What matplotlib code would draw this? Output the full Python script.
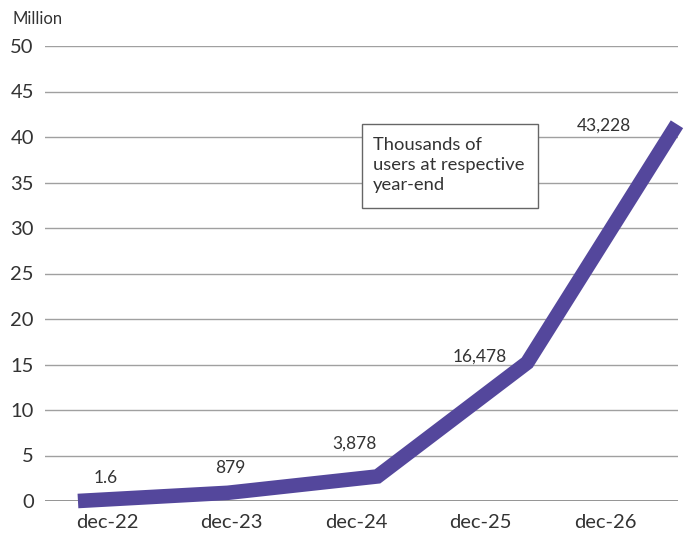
import matplotlib
matplotlib.use("Agg")
import matplotlib.pyplot as plt
import numpy as np

categories = ["dec-22", "dec-23", "dec-24", "dec-25", "dec-26"]
values_million = [0.0, 0.9, 2.7, 15.2, 41.4]
label_texts = ["1.6", "879", "3,878", "16,478", "43,228"]
label_y = [2.5, 3.6, 6.3, 15.9, 41.3]
yticks = [0, 5, 10, 15, 20, 25, 30, 35, 40, 45, 50]

plt.rcParams['font.family'] = ['Lato', 'DejaVu Sans']
txt = '#333333'

fig = plt.figure(figsize=(6.88, 5.39), dpi=100)
ax = fig.add_axes([45/688, 1-501/539, (678-45)/688, (501-46)/539])

x = np.arange(len(categories))
ax.set_xlim(-0.22, 4.007)
ax.set_ylim(0, 50)

for y in yticks[1:]:
    ax.axhline(y, color='#a0a0a0', lw=1.0, zorder=1)
ax.axhline(0, color='#8a8a8a', lw=2.0, zorder=1)

ax.plot(x, values_million, color='#54479c', lw=10.5, solid_capstyle='butt',
        solid_joinstyle='miter', zorder=3, clip_on=False)

# category band centres across the axis width
x0, x1 = ax.get_xlim()
band = (x1 - x0 - 0.07) / len(categories)
tick_pos = [x0 + band * (i + 0.5) for i in range(len(categories))]
ax.set_xticks(tick_pos)
ax.set_xticklabels(categories, fontsize=14.5, color=txt)
ax.set_yticks(yticks)
ax.set_yticklabels([str(v) for v in yticks], fontsize=14.5, color=txt)
ax.tick_params(length=0, pad=8)
ax.tick_params(axis='x', pad=9)

for sp in ax.spines.values():
    sp.set_visible(False)

for tp, t, ly in zip(tick_pos, label_texts, label_y):
    ax.text(tp - 0.01, ly, t, ha='center', va='center', fontsize=12.5, color=txt, zorder=4)

fig.patches.append(plt.Rectangle((362/688, 1-208/539), (538-362)/688, (208-124)/539,
                                 transform=fig.transFigure, facecolor='white',
                                 edgecolor='#666666', lw=1.0, zorder=4))
fig.text(373/688, 1-137/539, "Thousands of\nusers at respective\nyear-end",
         ha='left', va='top', fontsize=13.2, color=txt, linespacing=1.32, zorder=6)
fig.text(12/688, 1-19/539, "Million", ha='left', va='center', fontsize=12, color=txt)

fig.savefig("out.png", dpi=100)
